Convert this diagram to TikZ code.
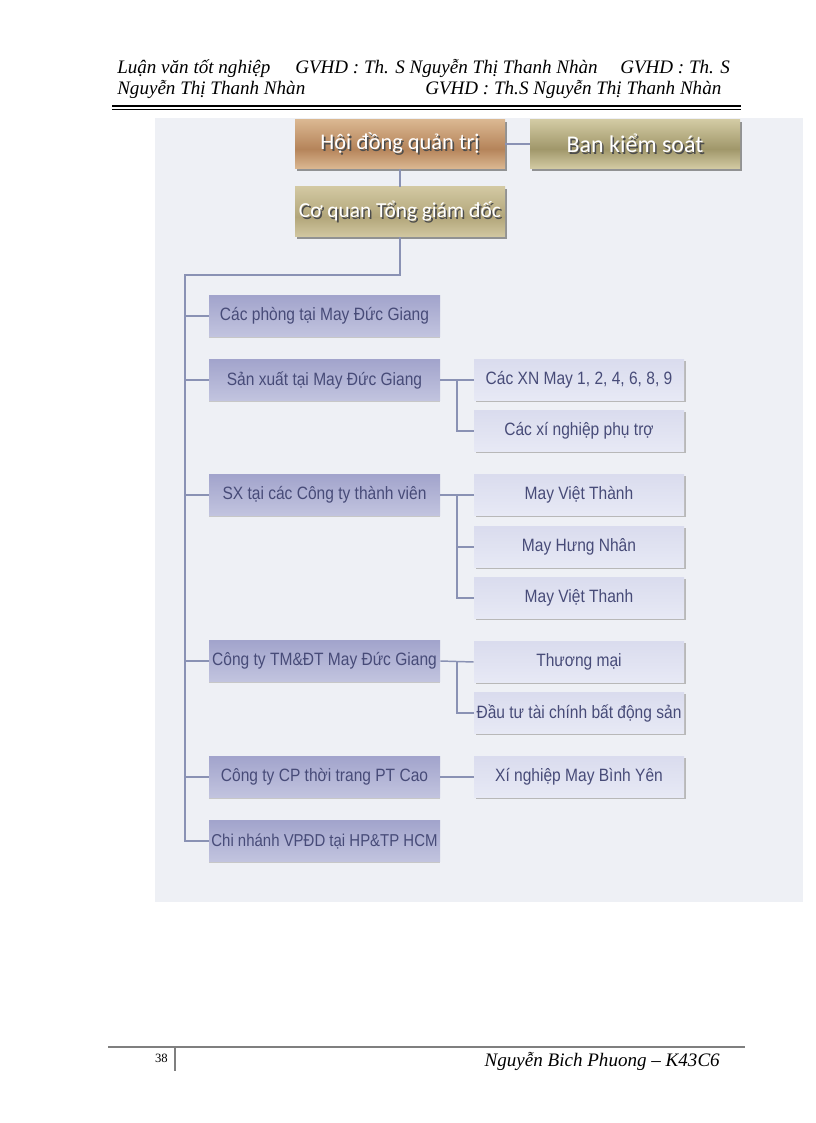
\documentclass[tikz,border=0pt]{standalone}
\usepackage{fontspec}
\setmainfont{Liberation Serif}
\newfontfamily\arialf[FakeStretch=0.87]{Liberation Sans}
\newfontfamily\calf{Carlito}
\usetikzlibrary{shadows,calc}
\definecolor{panel}{HTML}{EEF0F5}
\definecolor{conn}{HTML}{8A92B4}
\definecolor{lvtwoT}{HTML}{A2A4CC}
\definecolor{lvtwoB}{HTML}{C2C4DF}
\definecolor{lvthrT}{HTML}{DADCEE}
\definecolor{lvthrB}{HTML}{E7E9F5}
\definecolor{txtb}{HTML}{474B78}
\definecolor{hdA}{HTML}{DBB892}
\definecolor{hdB}{HTML}{B5845A}
\definecolor{bkA}{HTML}{D3CBA4}
\definecolor{bkB}{HTML}{A0976A}
\definecolor{cqA}{HTML}{D2C8A2}
\definecolor{cqB}{HTML}{B2A67A}
\definecolor{rulegray}{HTML}{7F7F7F}
\pgfdeclareverticalshading{hdsh}{100bp}{color(0bp)=(hdA); color(25bp)=(hdA); color(45bp)=(hdB); color(75bp)=(hdA); color(100bp)=(hdA)}
\pgfdeclareverticalshading{bksh}{100bp}{color(0bp)=(bkA); color(25bp)=(bkA); color(45bp)=(bkB); color(75bp)=(bkA); color(100bp)=(bkA)}
\pgfdeclareverticalshading{cqsh}{100bp}{color(0bp)=(cqA); color(25bp)=(cqA); color(45bp)=(cqB); color(75bp)=(cqA); color(100bp)=(cqA)}
\newcommand\shtxt[1]{\makebox[0pt][l]{\hspace{1.2pt}\raisebox{-1.2pt}{\color{black!70}#1}}#1}
\begin{document}
\begin{tikzpicture}[x=0.75pt,y=-0.75pt,
  topbox/.style={minimum width=157.5pt, minimum height=37pt, inner sep=0pt,
    font=\calf\fontsize{16.8}{18}\selectfont, text=white,
    drop shadow={shadow xshift=1.8pt, shadow yshift=-1.8pt, fill=black!55, opacity=0.75}},
  lvtwo/.style={minimum width=173.25pt, minimum height=30.75pt, inner sep=0pt,
    top color=lvtwoT, bottom color=lvtwoB, text=txtb,
    font=\arialf\fontsize{13.4}{15}\selectfont,
    drop shadow={shadow xshift=0pt, shadow yshift=-1.4pt, fill=black!22, opacity=1}},
  lvthr/.style={minimum width=157.5pt, minimum height=30.75pt, inner sep=0pt,
    top color=lvthrT, bottom color=lvthrB, text=txtb,
    font=\arialf\fontsize{13.4}{15}\selectfont,
    drop shadow={shadow xshift=1.3pt, shadow yshift=-1.3pt, fill=black!28, opacity=1}},
  conn/.style={draw=conn, line width=1.1pt},
  hdr/.style={font=\itshape\fontsize{14.3}{16}\selectfont, inner sep=0pt, anchor=base west},
]
\useasboundingbox (0,0) rectangle (816,1123);
\fill[white] (0,0) rectangle (816,1123);
% header
\node[hdr] (ha) at (117,74) {Luận văn tốt nghiệp};
\node[hdr] (hb) at (295,74) {GVHD : Th. S Nguyễn Thị Thanh Nhàn};
\node[hdr] (hc) at (620,74) {GVHD : Th. S};
\node[hdr] (hd) at (117,95) {Nguyễn Thị Thanh Nhàn};
\node[hdr] (he) at (425,95) {GVHD : Th.S Nguyễn Thị Thanh Nhàn};
\draw[line width=2.2pt] (112,106) -- (741,106);
\draw[line width=0.7pt] (112,109.5) -- (741,109.5);
% panel
\fill[panel] (155,118) rectangle (803,902);
% top boxes
\node[topbox, shading=hdsh] (hdqt) at (400,144) {\shtxt{Hội đồng quản trị}};
\node[topbox, shading=bksh, font=\calf\fontsize{18}{20}\selectfont] (bks) at (635,144) {\shtxt{Ban kiểm soát}};
\node[topbox, shading=cqsh, minimum height=37.5pt, font=\calf\fontsize{16}{18}\selectfont] (cq) at (400,212) {\shtxt{Cơ quan Tổng giám đốc}};
% level 2
\node[lvtwo] (c1) at (324.5,316) {Các phòng tại May Đức Giang};
\node[lvtwo] (c2) at (324.5,380) {Sản xuất tại May Đức Giang};
\node[lvtwo] (c3) at (324.5,495) {SX tại các Công ty thành viên};
\node[lvtwo] (c4) at (324.5,661) {Công ty TM\&ĐT May Đức Giang};
\node[lvtwo] (c5) at (324.5,777) {Công ty CP thời trang PT Cao};
\node[lvtwo, font=\arialf\fontsize{12.9}{15}\selectfont] (c6) at (324.5,841) {Chi nhánh VPĐD tại HP\&TP HCM};
% level 3
\node[lvthr] (d1) at (579,380) {Các XN May 1, 2, 4, 6, 8, 9};
\node[lvthr] (d2) at (579,431) {Các xí nghiệp phụ trợ};
\node[lvthr] (e1) at (579,495) {May Việt Thành};
\node[lvthr] (e2) at (579,547) {May Hưng Nhân};
\node[lvthr] (e3) at (579,598) {May Việt Thanh};
\node[lvthr] (f1) at (579,662) {Thương mại};
\node[lvthr] (f2) at (579,713) {Đầu tư tài chính bất động sản};
\node[lvthr] (g1) at (579,777) {Xí nghiệp May Bình Yên};
% connectors
\draw[conn] (hdqt.east) -- (bks.west);
\draw[conn] (hdqt.south) -- (cq.north);
\coordinate (tk) at (185,275);
\draw[conn] (cq.south) |- (tk) |- (c6.west);
\foreach \n in {c1,c2,c3,c4,c5}{\draw[conn] (tk |- \n.west) -- (\n.west);}
\coordinate (m2) at ($(c2.east)!0.5!(d1.west)$);
\draw[conn] (c2.east) -- (d1.west);
\draw[conn] (m2) |- (d2.west);
\coordinate (m3) at ($(c3.east)!0.5!(e1.west)$);
\draw[conn] (c3.east) -- (e1.west);
\draw[conn] (m3) |- (e2.west);
\draw[conn] (m3) |- (e3.west);
\coordinate (m4) at ($(c4.east)!0.5!(f1.west)$);
\draw[conn] (c4.east) -- (f1.west);
\draw[conn] (m4) |- (f2.west);
\draw[conn] (c5.east) -- (g1.west);
% footer
\draw[rulegray, line width=2pt] (108,1047) -- (745,1047);
\draw[rulegray, line width=2pt] (175,1047) -- (175,1071);
\node[inner sep=0pt, anchor=base east, font=\fontsize{9.5}{11}\selectfont] (pg) at (168,1062) {38};
\node[inner sep=0pt, anchor=base east, font=\itshape\fontsize{14.3}{16}\selectfont] (ft) at (720,1066) {Nguyễn Bich Phuong – K43C6};
\end{tikzpicture}
\end{document}
